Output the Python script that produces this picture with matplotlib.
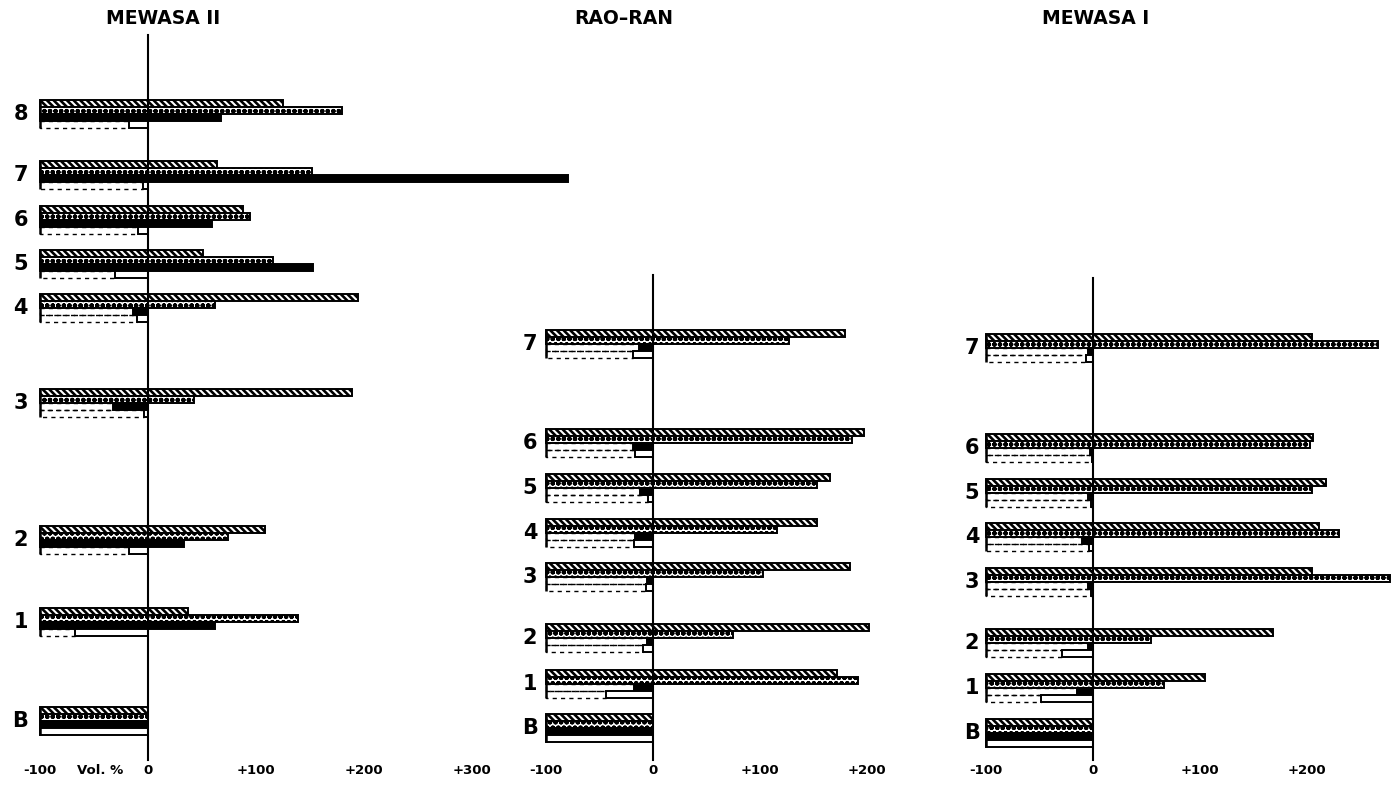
import matplotlib
matplotlib.use("Agg")
import matplotlib.pyplot as plt

plt.rcParams["font.family"] = ["DejaVu Sans"]

# Volume change (Vol. %) per sample; four series per sample
mewasa2_labels = ["8", "7", "6", "5", "4", "3", "2", "1", "B"]
mewasa2_hatched = [125, 64, 88, 51, 194, 189, 108, 37, 0]
mewasa2_dotted = [180, 152, 94, 116, 62, 43, 74, 139, 0]
mewasa2_solid = [68, 389, 59, 153, -14, -32, 33, 62, 0]
mewasa2_open = [-18, -5, -9, -31, -10, -4, -18, -68, 0]

raoran_labels = ["7", "6", "5", "4", "3", "2", "1", "B"]
raoran_hatched = [179, 197, 165, 153, 184, 202, 172, 0]
raoran_dotted = [127, 186, 153, 116, 103, 75, 192, 0]
raoran_solid = [-13, -19, -12, -17, -6, -6, -18, 0]
raoran_open = [-19, -17, -5, -18, -7, -9, -44, 0]

mewasa1_labels = ["7", "6", "5", "4", "3", "2", "1", "B"]
mewasa1_hatched = [205, 206, 218, 211, 205, 168, 105, 0]
mewasa1_dotted = [266, 203, 205, 230, 278, 54, 66, 0]
mewasa1_solid = [-5, -3, -5, -10, -5, -5, -15, 0]
mewasa1_open = [-7, -1, -2, -4, -2, -29, -49, 0]

W, H = 1396, 786
fig = plt.figure(figsize=(W / 100, H / 100), dpi=100)
fig.patch.set_facecolor("white")

BAR_H = 7.0
OFFSETS = [-10.5, -3.5, 3.5, 10.5]
# (bar style, hatch line width) for hatched, dotted, solid and open bars
STYLES = [
    (dict(facecolor="white", hatch="\\\\\\\\\\"), 1.9),
    (dict(facecolor="white", hatch="ooo"), 1.6),
    (dict(facecolor="black"), 1.0),
    (dict(facecolor="white"), 1.0),
]


def panel(zero_px, scale, xlim, rows, labels, series, title, title_x,
          axis_top, ticks, ticklabels, label_x, extra=None):
    left = zero_px + xlim[0] * scale
    width = (xlim[1] - xlim[0]) * scale
    ax = fig.add_axes([left / W, 0, width / W, 1])
    ax.patch.set_visible(False)
    ax.set_xlim(*xlim)
    ax.set_ylim(H, 0)
    ax.axis("off")

    for yc, lab, *vals in zip(rows, labels, *series):
        for off, v, (st, hlw) in zip(OFFSETS, vals, STYLES):
            y = yc + off
            with plt.rc_context({"hatch.linewidth": hlw}):
                if v >= 0:
                    ax.barh(y, v + 100, left=-100, height=BAR_H,
                            edgecolor="black", linewidth=1.4, clip_on=False,
                            **st)
                else:
                    ax.barh(y, v + 100, left=-100, height=BAR_H, fill=False,
                            edgecolor="black", linewidth=1.0,
                            linestyle=(0, (3, 3)))
                    ax.barh(y, -v, left=v, height=BAR_H, edgecolor="black",
                            linewidth=1.4, **st)
        ax.plot([-100, -100], [yc - 14, yc + 14], color="black", lw=1.8,
                solid_capstyle="butt")
        ax.text(label_x, yc, lab, ha="center", va="center", fontsize=15,
                fontweight="bold")

    ax.plot([0, 0], [axis_top, 760], color="black", lw=1.5)
    for t, tl in zip(ticks, ticklabels):
        ax.text(t, 771, tl, ha="center", va="center", fontsize=9.5,
                fontweight="bold")
    if extra:
        ax.text(extra[0], 771, extra[1], ha="center", va="center",
                fontsize=9.5, fontweight="bold")
    fig.text(title_x / W, 1 - 18 / H, title, ha="center", va="center",
             fontsize=13.5, fontweight="semibold")


# Layout: vertical centre of each sample group (pixel rows from the top)
rows_mewasa2 = [114, 175, 220, 264, 308, 403, 540, 622, 721]
rows_raoran = [344, 443, 488, 533, 577, 638, 684, 728]
rows_mewasa1 = [348, 448, 493, 537, 582, 643, 688, 733]

panel(148, 1.08, (-137, 335), rows_mewasa2, mewasa2_labels,
      [mewasa2_hatched, mewasa2_dotted, mewasa2_solid, mewasa2_open],
      "MEWASA II", 163, 35,
      [-100, 0, 100, 200, 300], ["-100", "0", "+100", "+200", "+300"],
      -118, extra=(-44, "Vol. %"))
panel(653, 1.07, (-130, 230), rows_raoran, raoran_labels,
      [raoran_hatched, raoran_dotted, raoran_solid, raoran_open],
      "RAO\u2013RAN", 624, 275,
      [-100, 0, 100, 200], ["-100", "0", "+100", "+200"], -115)
panel(1093, 1.07, (-125, 282), rows_mewasa1, mewasa1_labels,
      [mewasa1_hatched, mewasa1_dotted, mewasa1_solid, mewasa1_open],
      "MEWASA I", 1096, 278,
      [-100, 0, 100, 200], ["-100", "0", "+100", "+200"], -113)

fig.savefig("out.png", dpi=100)
